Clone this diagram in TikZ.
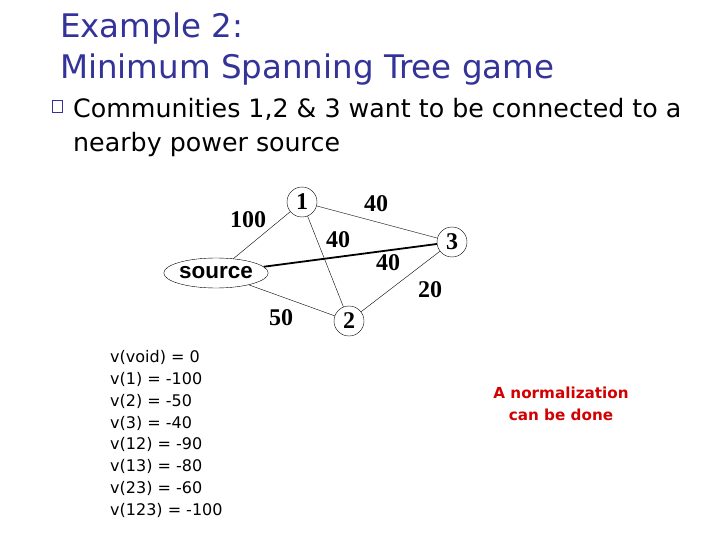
\documentclass[tikz,border=0pt]{standalone}
\usepackage{fontspec}
\setmainfont{DejaVu Sans}
\newfontfamily\timesf{Liberation Serif}
\newfontfamily\arialf{Liberation Sans}
\usetikzlibrary{shapes.geometric}
\definecolor{titleblue}{RGB}{51,51,153}
\definecolor{notered}{RGB}{210,0,0}
\tikzset{
  vert/.style={circle,draw,thin,minimum size=30pt,inner sep=0pt,font=\timesf\bfseries\fontsize{24}{24}\selectfont},
  wlabel/.style={font=\timesf\bfseries\fontsize{24}{24}\selectfont},
  edge/.style={draw,thin},
  heavy/.style={draw,line width=1.8pt},
}
\begin{document}
\begin{tikzpicture}[x=1pt,y=-1pt]
\useasboundingbox (0,0) rectangle (720,540);
% title
\node[anchor=base west,text=titleblue,font=\fontsize{32.5}{32.5}\selectfont,inner sep=0pt] (t1) at (60,38) {Example 2:};
\node[anchor=base west,text=titleblue,font=\fontsize{32.5}{32.5}\selectfont,inner sep=0pt] (t2) at (60,79) {Minimum Spanning Tree game};
% bullet
\node[draw=titleblue,line width=1.5pt,minimum width=10pt,minimum height=12pt,inner sep=0pt] (bul) at (57.5,106.5) {};
\node[anchor=base west,inner sep=0pt,font=\fontsize{25.3}{25.3}\selectfont] (b1) at (73,118) {Communities 1,2 \& 3 want to be connected to a};
\node[anchor=base west,inner sep=0pt,font=\fontsize{25.3}{25.3}\selectfont] (b2) at (73,152) {nearby power source};
% graph
\node[vert] (n1) at (302,202) {1};
\node[vert] (n3) at (452,242) {3};
\node[vert] (n2) at (349,321) {2};
\node[ellipse,draw,thin,minimum width=82pt,minimum height=30pt,inner sep=0pt,font=\arialf\bfseries\fontsize{22.5}{22.5}\selectfont] (src) at (216,273) {source};
\draw[edge] (src) -- (n1);
\draw[edge] (n1) -- (n3);
\draw[edge] (n1) -- (n2);
\draw[heavy] (src) -- (n3);
\draw[edge] (n3) -- (n2);
\draw[edge] (src) -- (n2);
\node[wlabel] (l100) at (248,220) {100};
\node[wlabel] (l13) at (376,204) {40};
\node[wlabel] (l12) at (338,240) {40};
\node[wlabel] (ls3) at (388,263) {40};
\node[wlabel] (l32) at (430,290) {20};
\node[wlabel] (ls2) at (281,318) {50};
% values
\node[anchor=north west,align=left,inner sep=0pt,font=\fontsize{16}{21.9}\selectfont] (vals) at (110,350) {v(void) = 0\\v(1) = -100\\v(2) = -50\\v(3) = -40\\v(12) = -90\\v(13) = -80\\v(23) = -60\\v(123) = -100};
% note
\node[align=center,text=notered,font=\bfseries\fontsize{15.2}{22}\selectfont] (note) at (561,404) {A normalization\\can be done};
\end{tikzpicture}
\end{document}
